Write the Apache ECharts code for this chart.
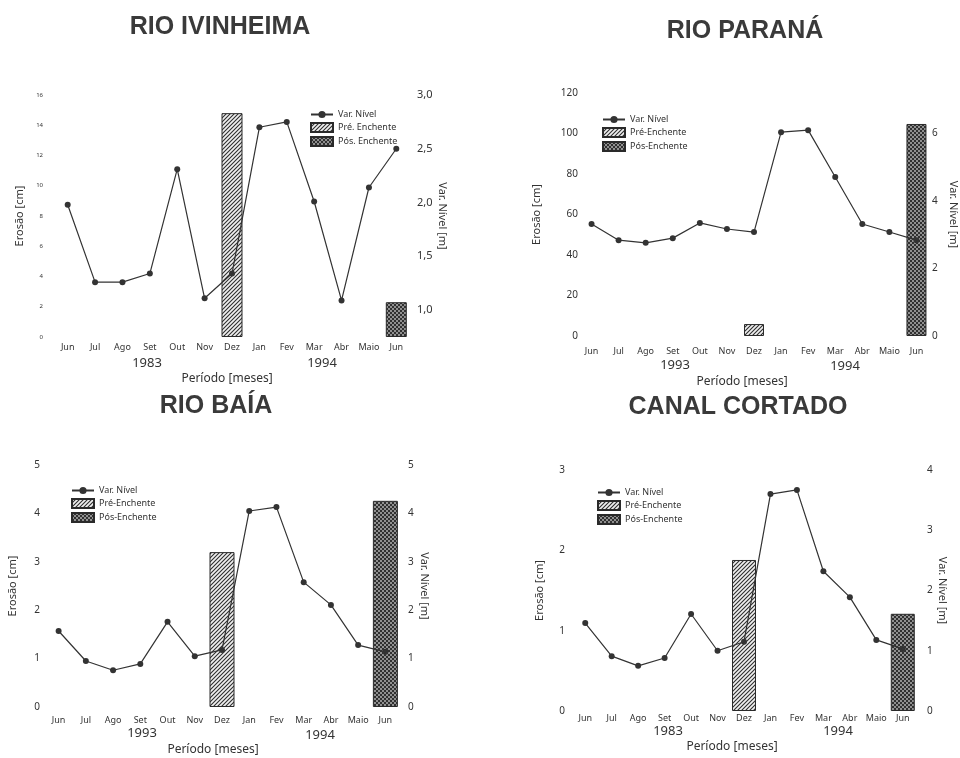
<!DOCTYPE html>
<html>
<head>
<meta charset="utf-8">
<script src="https://cdn.jsdelivr.net/npm/echarts@6/dist/echarts.min.js"></script>
<style>
html,body{margin:0;padding:0;background:#fff;}
#c{width:960px;height:758px;}
</style>
</head>
<body>
<div id="c"></div>
<script>
// ---------- data ----------
const months = ['Jun','Jul','Ago','Set','Out','Nov','Dez','Jan','Fev','Mar','Abr','Maio','Jun'];

// Var. Nível [m] (right axis)
const ivinheimaNivel = [1.98,1.26,1.26,1.34,2.31,1.11,1.34,2.70,2.75,2.01,1.09,2.14,2.50];
const paranaNivel    = [3.32,2.84,2.76,2.90,3.35,3.17,3.08,6.04,6.10,4.71,3.32,3.08,2.84];
const baiaNivel      = [1.57,0.95,0.76,0.89,1.76,1.05,1.18,4.05,4.13,2.58,2.11,1.28,1.14];
const canalNivel     = [1.46,0.91,0.75,0.88,1.61,1.00,1.15,3.60,3.67,2.32,1.89,1.18,1.03];

// Erosão [cm] (left axis) – Pré-Enchente (Dez) and Pós-Enchente (Jun)
const ivinheimaPre = ['-','-','-','-','-','-',14.8,'-','-','-','-','-','-'];
const ivinheimaPos = ['-','-','-','-','-','-','-','-','-','-','-','-',2.3];
const paranaPre    = ['-','-','-','-','-','-',5.9,'-','-','-','-','-','-'];
const paranaPos    = ['-','-','-','-','-','-','-','-','-','-','-','-',104.7];
const baiaPre      = ['-','-','-','-','-','-',3.2,'-','-','-','-','-','-'];
const baiaPos      = ['-','-','-','-','-','-','-','-','-','-','-','-',4.26];
const canalPre     = ['-','-','-','-','-','-',1.88,'-','-','-','-','-','-'];
const canalPos     = ['-','-','-','-','-','-','-','-','-','-','-','-',1.21];

const titles = ['RIO IVINHEIMA','RIO PARANÁ','RIO BAÍA','CANAL CORTADO'];
const yearLabels = [['1983','1994'],['1993','1994'],['1993','1994'],['1983','1994']];
const legendNames = [
  ['Var. Nível','Pré. Enchente','Pós. Enchente'],
  ['Var. Nível','Pré-Enchente','Pós-Enchente'],
  ['Var. Nível','Pré-Enchente','Pós-Enchente'],
  ['Var. Nível','Pré-Enchente','Pós-Enchente']
];
// ---------- patterns ----------
function hatch(){
  const c=document.createElement('canvas'); c.width=c.height=4;
  const g=c.getContext('2d');
  g.fillStyle='#f0f0f0'; g.fillRect(0,0,4,4);
  g.strokeStyle='#2e2e2e'; g.lineWidth=1.1;
  g.beginPath();
  g.moveTo(-1,5); g.lineTo(5,-1);
  g.moveTo(-1,1); g.lineTo(1,-1);
  g.moveTo(3,5); g.lineTo(5,3);
  g.stroke();
  return c;
}
function stipple(){
  const c=document.createElement('canvas'); c.width=c.height=4;
  const g=c.getContext('2d');
  g.fillStyle='#303030'; g.fillRect(0,0,4,4);
  g.fillStyle='#909090'; g.fillRect(0,0,2,2); g.fillRect(2,2,2,2);
  return c;
}
const hatchFill = {image: hatch(), repeat:'repeat'};
const dotFill = {image: stipple(), repeat:'repeat'};

const FONT = 'Noto Sans';
const TXT = '#333';

// ---------- layout per panel ----------
const panels = [
  {grid:{left:54,top:95,width:356,height:242},
   left:{min:0,max:16,interval:2,size:6,margin:11},
   right:{min:0.75,max:3,interval:0.25,size:11,margin:7,fmt:v=>Math.abs(v*2-Math.round(v*2))<1e-6?v.toFixed(1).replace('.',','):''},
   lGap:29, rGap:26, catMargin:6, barW:21,
   nivel:ivinheimaNivel, pre:ivinheimaPre, pos:ivinheimaPos,
   legend:{left:305,top:105},
   title:[220,27], years:[[147,363],[322,363]], periodo:[227,379]},
  {grid:{left:578,top:93,width:353,height:243},
   left:{min:0,max:120,interval:20,size:10,margin:0},
   right:{min:0,max:7.2,interval:2,size:10,margin:2,fmt:v=>(Math.abs(v%2)<1e-6?String(v):'')},
   lGap:36, rGap:18, catMargin:11, barW:20,
   nivel:paranaNivel, pre:paranaPre, pos:paranaPos,
   legend:{left:597,top:110},
   title:[745,31], years:[[675,365],[845,366]], periodo:[742,382]},
  {grid:{left:45,top:465,width:354,height:242},
   left:{min:0,max:5,interval:1,size:10,margin:5},
   right:{min:0,max:5,interval:1,size:10,margin:9,fmt:v=>String(v)},
   lGap:27, rGap:20, catMargin:9, barW:25,
   nivel:baiaNivel, pre:baiaPre, pos:baiaPos,
   legend:{left:66,top:481},
   title:[216,406], years:[[142,733],[320,735]], periodo:[213,750]},
  {grid:{left:572,top:470,width:344,height:241},
   left:{min:0,max:3,interval:1,size:10,margin:7},
   right:{min:0,max:4,interval:1,size:10,margin:11,fmt:v=>String(v)},
   lGap:27, rGap:20, catMargin:3, barW:24,
   nivel:canalNivel, pre:canalPre, pos:canalPos,
   legend:{left:592,top:483},
   title:[738,407], years:[[668,731],[838,731]], periodo:[732,747]}
];

const option = {
  backgroundColor:'#fff',
  animation:false,
  textStyle:{fontFamily:FONT,color:TXT},
  grid:[], xAxis:[], yAxis:[], series:[], legend:[], graphic:[]
};

panels.forEach((p,i)=>{
  option.grid.push(p.grid);
  option.xAxis.push({
    type:'category', gridIndex:i, data:months, boundaryGap:true,
    axisLine:{show:false}, axisTick:{show:false}, splitLine:{show:false},
    axisLabel:{interval:0, fontSize:9, color:TXT, margin:p.catMargin, fontFamily:FONT}
  });
  option.yAxis.push({
    type:'value', gridIndex:i, position:'left',
    min:p.left.min, max:p.left.max, interval:p.left.interval,
    axisLine:{show:false}, axisTick:{show:false}, splitLine:{show:false},
    axisLabel:{fontSize:p.left.size, color:TXT, margin:p.left.margin, fontFamily:FONT},
    name:'Erosão [cm]', nameLocation:'middle', nameGap:p.lGap, nameRotate:90,
    nameTextStyle:{fontSize:11, color:TXT, fontFamily:FONT}
  });
  option.yAxis.push({
    type:'value', gridIndex:i, position:'right',
    min:p.right.min, max:p.right.max, interval:p.right.interval,
    axisLine:{show:false}, axisTick:{show:false}, splitLine:{show:false},
    axisLabel:{fontSize:p.right.size, color:TXT, margin:p.right.margin, fontFamily:FONT, formatter:p.right.fmt, showMaxLabel:true},
    name:'Var. Nível [m]', nameLocation:'middle', nameGap:p.rGap, nameRotate:-90,
    nameTextStyle:{fontSize:11, color:TXT, fontFamily:FONT}
  });
  const names = legendNames[i];
  option.series.push({
    name:names[1], type:'bar', xAxisIndex:i, yAxisIndex:2*i, data:p.pre,
    barWidth:p.barW, barGap:'-100%',
    itemStyle:{color:hatchFill, borderColor:'#2a2a2a', borderWidth:1}
  });
  option.series.push({
    name:names[2], type:'bar', xAxisIndex:i, yAxisIndex:2*i, data:p.pos,
    barWidth:p.barW, barGap:'-100%',
    itemStyle:{color:dotFill, borderColor:'#2a2a2a', borderWidth:1}
  });
  option.series.push({
    name:names[0], type:'line', xAxisIndex:i, yAxisIndex:2*i+1, data:p.nivel,
    symbol:'circle', symbolSize:6, z:5,
    lineStyle:{color:'#333', width:1.2},
    itemStyle:{color:'#333'}
  });
  option.legend.push({
    left:p.legend.left, top:p.legend.top, orient:'vertical',
    itemWidth:22, itemHeight:9, itemGap:3,
    textStyle:{fontSize:9, color:TXT, fontFamily:FONT},
    data:[names[0], {name:names[1], icon:'rect'}, {name:names[2], icon:'rect'}]
  });
  option.graphic.push({type:'text', x:p.title[0], y:p.title[1],
    style:{text:titles[i], font:'bold 25px "Liberation Sans", Arial, sans-serif', fill:'#3a3a3a', align:'center', verticalAlign:'middle'}});
  yearLabels[i].forEach((yl,k)=>{
    option.graphic.push({type:'text', x:p.years[k][0], y:p.years[k][1],
      style:{text:yl, font:'13px "'+FONT+'"', fill:TXT, align:'center', verticalAlign:'middle'}});
  });
  option.graphic.push({type:'text', x:p.periodo[0], y:p.periodo[1],
    style:{text:'Período [meses]', font:'12px "'+FONT+'"', fill:TXT, align:'center', verticalAlign:'middle'}});
});

const chart = echarts.init(document.getElementById('c'), null, {renderer:'canvas'});
chart.setOption(option);
</script>
</body>
</html>
